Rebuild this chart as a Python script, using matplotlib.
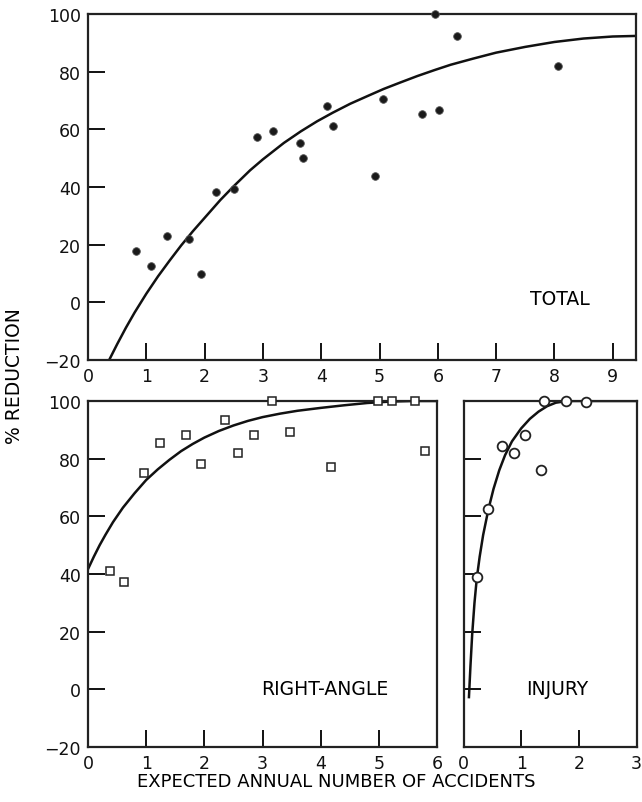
import matplotlib.pyplot as plt

plt.rcParams["font.family"] = ["DejaVu Sans"]

# TOTAL: observed reductions (filled circles) and fitted curve
total_x = [0.82, 1.08, 1.36, 1.73, 1.94, 2.19, 2.50, 2.89, 3.18, 3.63, 3.69,
           4.10, 4.21, 4.92, 5.06, 5.73, 5.96, 6.02, 6.33, 8.06]
total_y = [17.7, 12.5, 22.9, 22.1, 9.8, 38.2, 39.3, 57.2, 59.5, 55.3, 50.0,
           68.0, 61.0, 43.9, 70.4, 65.3, 100.0, 66.6, 92.5, 82.1]
total_fit_x = [0.37, 0.5, 0.65, 0.8, 1.0, 1.2, 1.4, 1.6, 1.8, 2.0, 2.27, 2.5,
               2.78, 3.0, 3.36, 3.65, 3.93, 4.2, 4.5, 4.8, 5.07, 5.35, 5.65,
               5.95, 6.22, 6.6, 7.0, 7.5, 8.0, 8.5, 9.0, 9.4]
total_fit_y = [-19.7, -14.5, -8.8, -3.5, 3.0, 9.0, 14.5, 19.8, 24.7, 29.3,
               35.5, 40.3, 45.8, 49.6, 55.3, 59.3, 62.8, 65.8, 68.9, 71.6,
               74.0, 76.2, 78.5, 80.6, 82.4, 84.5, 86.6, 88.6, 90.3, 91.5,
               92.2, 92.4]

# RIGHT-ANGLE: open squares and fitted curve
ra_x = [0.38, 0.62, 0.97, 1.24, 1.68, 1.94, 2.36, 2.58, 2.85, 3.17, 3.48,
        4.18, 4.99, 5.23, 5.62, 5.80]
ra_y = [41.0, 37.3, 75.0, 85.6, 88.3, 78.1, 93.4, 82.1, 88.3, 100.0, 89.3,
        77.1, 100.0, 100.0, 100.0, 82.7]
ra_fit_x = [0.0, 0.1, 0.2, 0.3, 0.43, 0.6, 0.8, 1.0, 1.2, 1.4, 1.6, 1.8, 2.0,
            2.25, 2.5, 2.75, 3.0, 3.3, 3.6, 4.0, 4.4, 4.8, 5.2, 5.6, 6.0]
ra_fit_y = [41.7, 46.0, 50.0, 53.6, 58.0, 63.0, 68.0, 72.6, 76.3, 79.6, 82.6,
            85.1, 87.3, 89.6, 91.5, 93.1, 94.4, 95.6, 96.6, 97.6, 98.5, 99.3,
            99.8, 100.0, 100.0]

# INJURY: open circles and fitted curve
inj_x = [0.23, 0.43, 0.66, 0.87, 1.07, 1.34, 1.40, 1.77, 2.13]
inj_y = [39.0, 62.4, 84.5, 81.9, 88.2, 76.0, 100.0, 100.0, 99.5]
inj_fit_x = [0.094, 0.12, 0.15, 0.19, 0.23, 0.28, 0.34, 0.43, 0.52, 0.62,
             0.72, 0.84, 1.0, 1.15, 1.3, 1.45, 1.6, 1.8, 3.0]
inj_fit_y = [-2.7, 8.0, 19.0, 30.0, 38.5, 46.0, 53.5, 62.3, 69.5, 76.0, 81.2,
             86.0, 90.5, 93.8, 96.3, 98.2, 99.4, 100.0, 100.0]

fig = plt.figure(figsize=(6.42, 8.03), dpi=100)
ax_top = fig.add_axes([0.1371, 0.5504, 0.8536, 0.4309])
ax_ra = fig.add_axes([0.1371, 0.0685, 0.5436, 0.4309])
ax_inj = fig.add_axes([0.7220, 0.0685, 0.2695, 0.4309])


def style(ax, xmax, xticks, show_ylabels=True):
    ax.set_xlim(0, xmax)
    ax.set_ylim(-20, 100)
    ax.set_xticks(xticks)
    ax.set_yticks([-20, 0, 20, 40, 60, 80, 100])
    ax.tick_params(direction="in", length=12, width=1.4, labelsize=12.5,
                   pad=5, colors="#111111")
    if not show_ylabels:
        ax.set_yticklabels([])
    for s in ax.spines.values():
        s.set_linewidth(1.6)
        s.set_color("#222222")


style(ax_top, 9.4, range(0, 10))
style(ax_ra, 6, range(0, 7))
style(ax_inj, 3, range(0, 4), show_ylabels=False)

ax_top.plot(total_fit_x, total_fit_y, color="#111111", lw=1.8, zorder=2)
ax_top.plot(total_x, total_y, "o", color="#1a1a1a", ms=5.5, mec="#555555",
            mew=0.6, clip_on=False, zorder=4)

ax_ra.plot(ra_fit_x, ra_fit_y, color="#111111", lw=1.8, zorder=2)
ax_ra.plot(ra_x, ra_y, "s", mfc="white", mec="#222222", ms=5.5, mew=1.1,
           clip_on=False, zorder=4)

ax_inj.plot(inj_fit_x, inj_fit_y, color="#111111", lw=1.8, zorder=2)
ax_inj.plot(inj_x, inj_y, "o", mfc="white", mec="#222222", ms=7, mew=1.3,
            clip_on=False, zorder=4)

ax_top.text(8.1, 1.5, "TOTAL", ha="center", va="center", fontsize=13.5)
ax_ra.text(4.07, 0.3, "RIGHT-ANGLE", ha="center", va="center", fontsize=13.5)
ax_inj.text(1.62, 0.3, "INJURY", ha="center", va="center", fontsize=13.5)

fig.text(0.023, 0.532, "% REDUCTION", rotation=90, ha="center", va="center",
         fontsize=13.5)
fig.text(0.523, 0.026, "EXPECTED ANNUAL NUMBER OF ACCIDENTS", ha="center",
         va="center", fontsize=13)

fig.savefig("out.png", dpi=100)
